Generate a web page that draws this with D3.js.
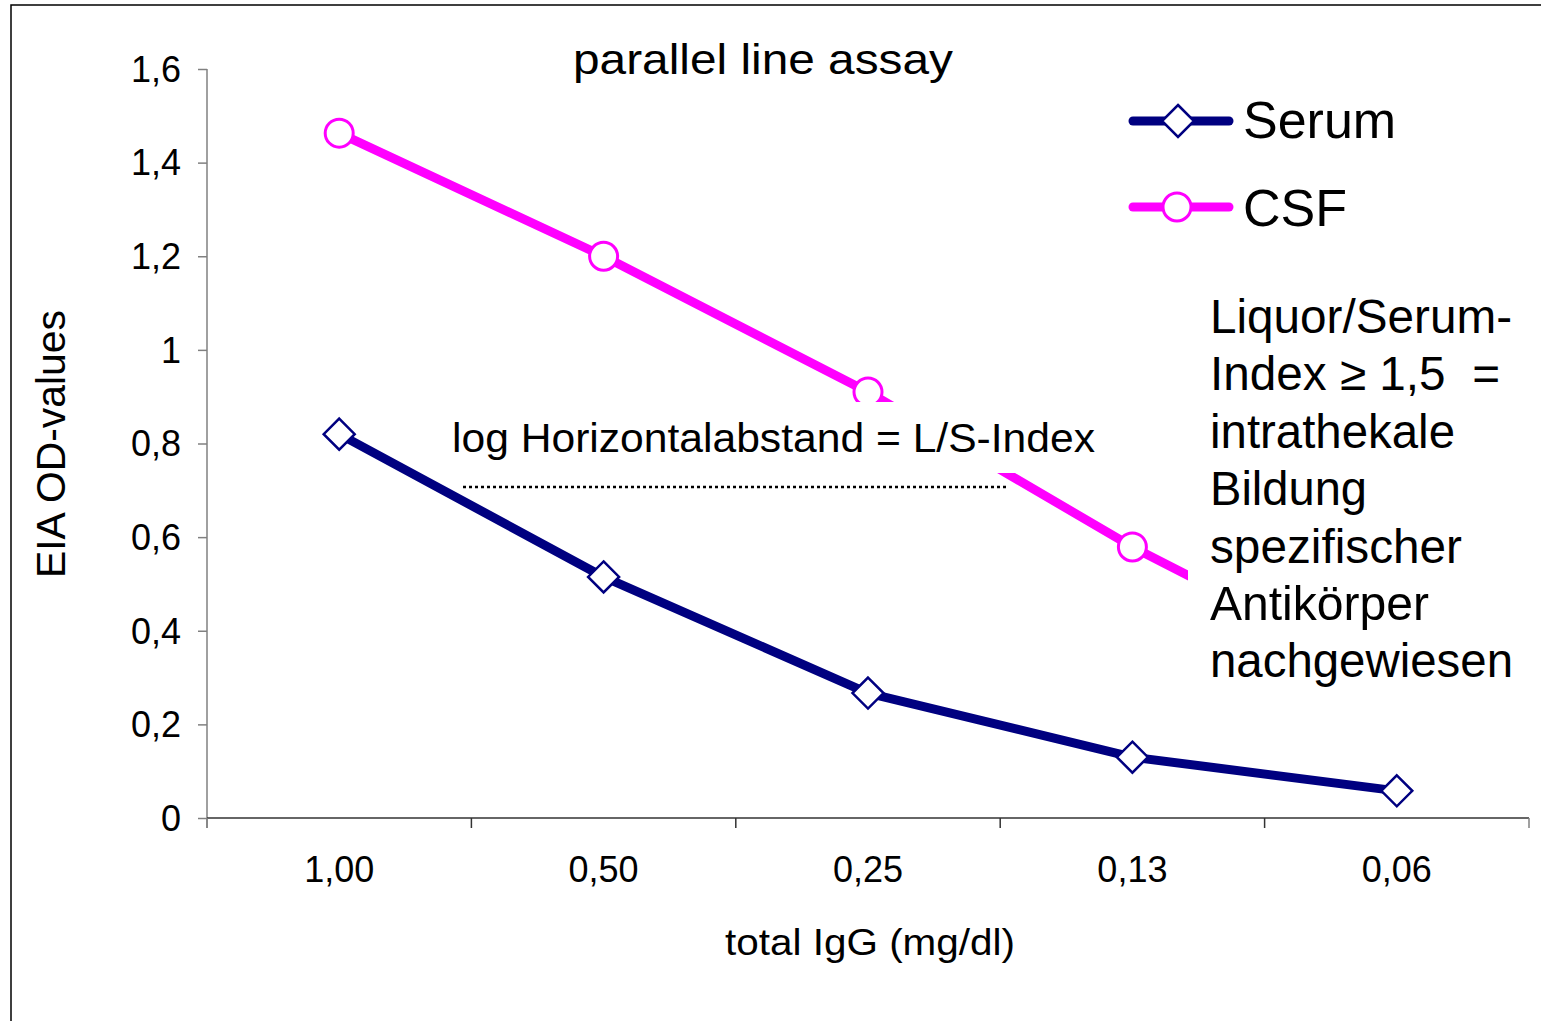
<!DOCTYPE html>
<html><head><meta charset="utf-8">
<script src="https://cdn.jsdelivr.net/npm/d3@7"></script>
<style>
body{margin:0;background:#fff;}
svg{display:block;font-family:"Liberation Sans",Arial,sans-serif;}
text{white-space:pre;}
</style></head>
<body>
<svg id="c" width="1541" height="1021"></svg>
<script>
const categories = ["1,00","0,50","0,25","0,13","0,06"];
const serumValues = [0.82, 0.515, 0.267, 0.13, 0.058];
const csfValues = [1.463, 1.20, 0.91, 0.579, 0.29];
const yTicks = [0,0.2,0.4,0.6,0.8,1,1.2,1.4,1.6];
const yTickLabels = ["0","0,2","0,4","0,6","0,8","1","1,2","1,4","1,6"];
const noteLines = ["Liquor/Serum-","Index \u2265 1,5  =","intrathekale","Bildung","spezifischer","Antik\u00f6rper","nachgewiesen"];
const noteWidths = [302, 290, 245, 157, 252, 219, 303];

const svg = d3.select("#c");
svg.append("rect").attr("x",11).attr("y",5).attr("width",1545).attr("height",1040)
  .attr("fill","#fff").attr("stroke","#000").attr("stroke-width",1.5);

const x = d3.scaleBand().domain(categories).range([207,1529]).padding(0);
const y = d3.scaleLinear().domain([0,1.6]).range([818,69]);

// y axis
const ya = svg.append("g").attr("transform","translate(207,0)")
  .call(d3.axisLeft(y).tickValues(yTicks).tickSize(9).tickPadding(17)
    .tickFormat((d,i)=>yTickLabels[i]));
ya.select(".domain").attr("stroke","#808080").attr("stroke-width",1.5).attr("d","M0,69V828");
ya.selectAll(".tick line").attr("stroke","#808080").attr("stroke-width",1.5);
ya.selectAll(".tick text").attr("font-size",36).attr("fill","#000").attr("dy","0.34em")
  .attr("font-family","'Liberation Sans',Arial,sans-serif");

// x axis
const xa = svg.append("g").attr("transform","translate(0,818)")
  .call(d3.axisBottom(x).tickSize(0).tickPadding(38));
xa.select(".domain").attr("stroke","#333").attr("stroke-width",1.5).attr("d","M207,0H1529");
xa.selectAll(".tick text").attr("font-size",36).attr("fill","#000")
  .attr("font-family","'Liberation Sans',Arial,sans-serif");
const bounds = categories.map(c=>x(c)).concat([x.range()[1]]);
svg.append("g").selectAll("line").data(bounds).join("line")
  .attr("x1",d=>d).attr("x2",d=>d).attr("y1",818).attr("y2",828)
  .attr("stroke",(d,i)=>i===0||i===bounds.length-1?"#808080":"#333").attr("stroke-width",1.5);

const cx = c => x(c)+x.bandwidth()/2;
const line = d3.line().x((d,i)=>cx(categories[i])).y(d=>y(d));

// series lines
svg.append("path").datum(csfValues).attr("d",line).attr("fill","none")
  .attr("stroke","#ff00ff").attr("stroke-width",9).attr("stroke-linejoin","round");
svg.append("path").datum(serumValues).attr("d",line).attr("fill","none")
  .attr("stroke","#000080").attr("stroke-width",9).attr("stroke-linejoin","round");

const diamond = (cxp,cyp,r)=>`M${cxp},${cyp-r}L${cxp+r},${cyp}L${cxp},${cyp+r}L${cxp-r},${cyp}Z`;
svg.append("g").selectAll("path").data(serumValues).join("path")
  .attr("d",(d,i)=>diamond(cx(categories[i]),y(d),15.5))
  .attr("fill","#fff").attr("stroke","#000080").attr("stroke-width",2.5);
svg.append("g").selectAll("circle").data(csfValues).join("circle")
  .attr("cx",(d,i)=>cx(categories[i])).attr("cy",d=>y(d)).attr("r",14)
  .attr("fill","#fff").attr("stroke","#ff00ff").attr("stroke-width",3);

// annotation box (white background covering line)
svg.append("rect").attr("x",445).attr("y",402).attr("width",660).attr("height",71).attr("fill","#fff");
svg.append("text").attr("x",452).attr("y",452).attr("font-size",40)
  .attr("textLength",643).attr("lengthAdjust","spacingAndGlyphs").text("log Horizontalabstand = L/S-Index");
svg.append("line").attr("x1",463).attr("x2",1007).attr("y1",487).attr("y2",487)
  .attr("stroke","#000").attr("stroke-width",2.5).attr("stroke-dasharray","3,3");

// right note
svg.append("rect").attr("x",1188).attr("y",288).attr("width",345).attr("height",425).attr("fill","#fff");
svg.append("g").selectAll("text").data(noteLines).join("text")
  .attr("x",1210).attr("y",(d,i)=>333+i*57.4).attr("font-size",48)
  .attr("textLength",(d,i)=>noteWidths[i]).attr("lengthAdjust","spacingAndGlyphs").text(d=>d);

// title
svg.append("text").attr("x",573).attr("y",74).attr("font-size",43)
  .attr("textLength",380).attr("lengthAdjust","spacingAndGlyphs").text("parallel line assay");

// axis titles
svg.append("text").attr("x",725).attr("y",955).attr("font-size",36)
  .attr("textLength",290).attr("lengthAdjust","spacingAndGlyphs").text("total IgG (mg/dl)");
svg.append("text").attr("transform","translate(65,578) rotate(-90)")
  .attr("font-size",40).attr("textLength",268).attr("lengthAdjust","spacingAndGlyphs").text("EIA OD-values");

// legend
const leg = svg.append("g");
leg.append("line").attr("x1",1133).attr("x2",1229).attr("y1",121).attr("y2",121)
  .attr("stroke","#000080").attr("stroke-width",9).attr("stroke-linecap","round");
leg.append("path").attr("d",diamond(1178,121,16)).attr("fill","#fff").attr("stroke","#000080").attr("stroke-width",2.5);
leg.append("text").attr("x",1243).attr("y",138).attr("font-size",52).text("Serum");
leg.append("line").attr("x1",1133).attr("x2",1229).attr("y1",207).attr("y2",207)
  .attr("stroke","#ff00ff").attr("stroke-width",9).attr("stroke-linecap","round");
leg.append("circle").attr("cx",1177).attr("cy",207).attr("r",14).attr("fill","#fff").attr("stroke","#ff00ff").attr("stroke-width",3);
leg.append("text").attr("x",1243).attr("y",226).attr("font-size",52).text("CSF");
</script>
</body></html>
